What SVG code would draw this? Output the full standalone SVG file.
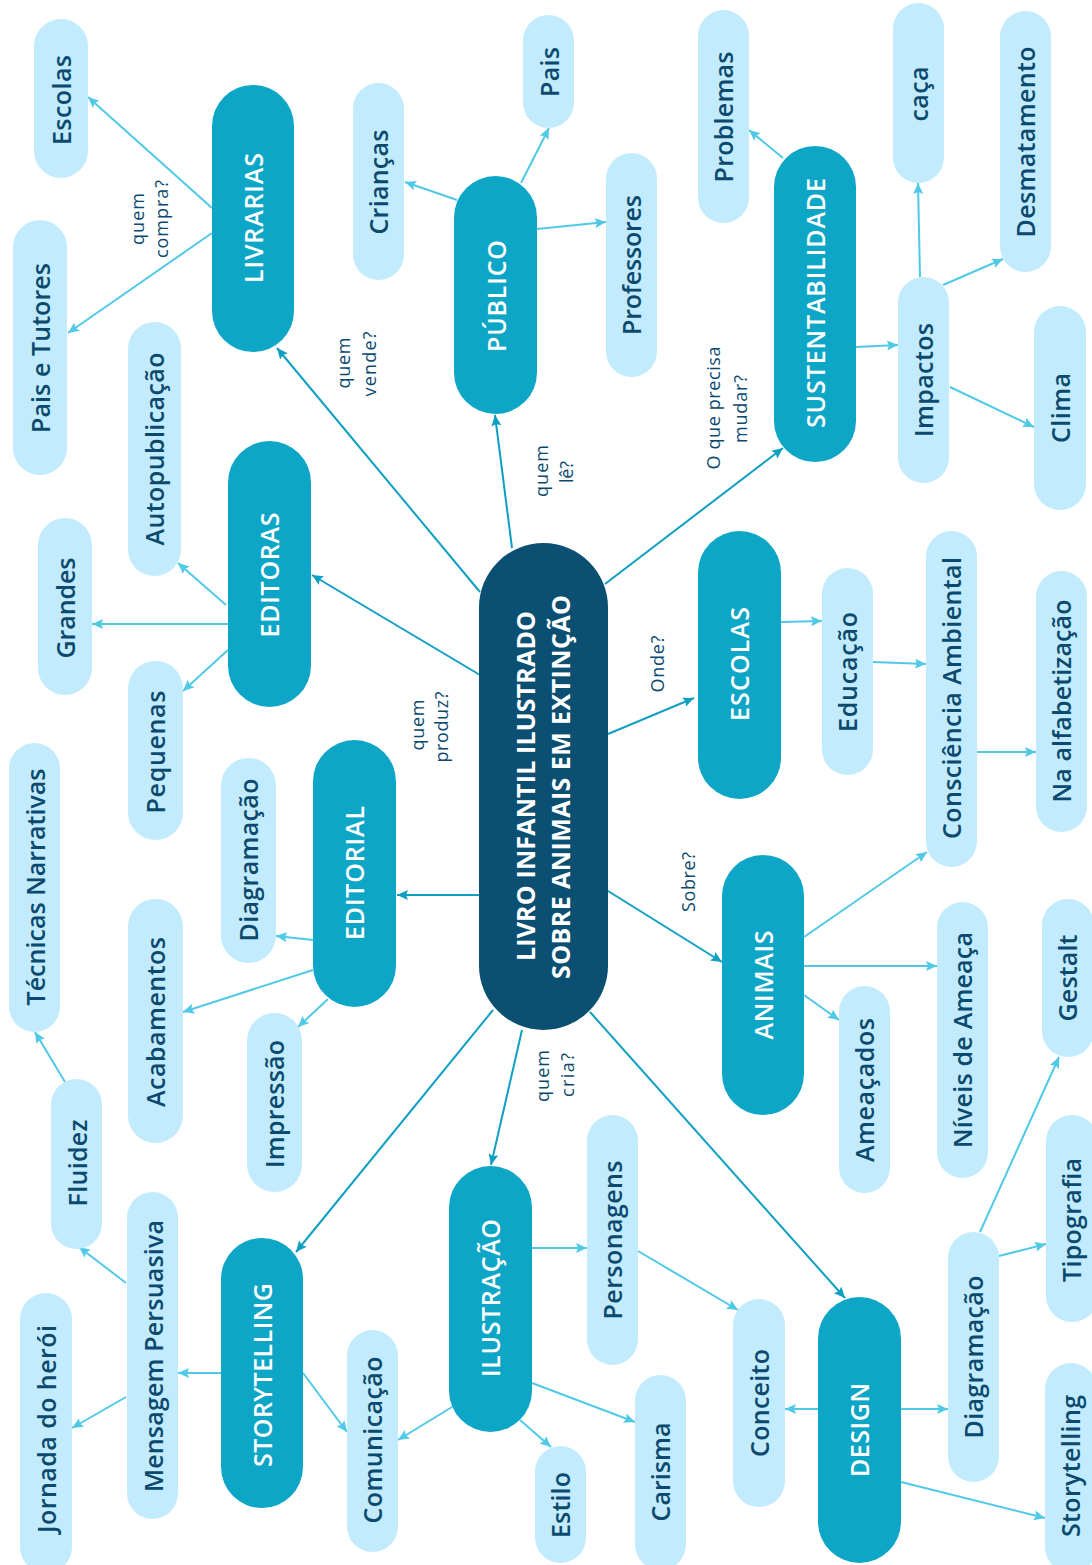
<svg xmlns="http://www.w3.org/2000/svg" width="1092" height="1565" viewBox="0 0 1092 1565">
<defs>
<style>
.c{fill:#0b4f72}
.p1{fill:#0ea6c7}
.p2{fill:#c2ecfd}
text{font-family:"Open Sans","Liberation Sans",sans-serif;text-anchor:middle;dominant-baseline:central}
.t0{fill:#ffffff;font-size:25px;font-weight:700}
.t1{fill:#ffffff;font-size:25px;font-weight:600}
.t2{fill:#0b4a6e;font-size:25px;font-weight:600}
.lab{fill:#0b4a6e;font-size:18px;font-weight:500}
.e0{stroke:#0e9fc2;stroke-width:2;fill:none;marker-end:url(#a0)}
.e1{stroke:#50c9e7;stroke-width:2;fill:none;marker-end:url(#a1)}
</style>
<marker id="a0" markerUnits="userSpaceOnUse" markerWidth="12" markerHeight="10" refX="11" refY="5" orient="auto"><path d="M0,0 L11,5 L0,10 L2,5 z" fill="#0e9fc2"/></marker>
<marker id="a1" markerUnits="userSpaceOnUse" markerWidth="12" markerHeight="10" refX="11" refY="5" orient="auto"><path d="M0,0 L11,5 L0,10 L2,5 z" fill="#50c9e7"/></marker>
</defs>
<rect width="1092" height="1565" fill="#ffffff"/>
<g id="connectors">
<line class="e0" x1="480" y1="592" x2="277" y2="348"/>
<line class="e0" x1="512" y1="548" x2="495" y2="415"/>
<line class="e0" x1="605" y1="584" x2="783" y2="448"/>
<line class="e0" x1="480" y1="675" x2="312" y2="575"/>
<line class="e0" x1="608" y1="734" x2="694" y2="698"/>
<line class="e0" x1="480" y1="895" x2="397" y2="895"/>
<line class="e0" x1="608" y1="891" x2="722" y2="962"/>
<line class="e0" x1="493" y1="1010" x2="296" y2="1252"/>
<line class="e0" x1="522" y1="1030" x2="491" y2="1165"/>
<line class="e0" x1="590" y1="1012" x2="845" y2="1298"/>
<line class="e1" x1="212" y1="208" x2="88" y2="97"/>
<line class="e1" x1="212" y1="233" x2="68" y2="333"/>
<line class="e1" x1="457" y1="200" x2="405" y2="182"/>
<line class="e1" x1="521" y1="183" x2="549" y2="128"/>
<line class="e1" x1="537" y1="229" x2="606" y2="222"/>
<line class="e1" x1="783" y1="158" x2="749" y2="130"/>
<line class="e1" x1="856" y1="347" x2="898" y2="345"/>
<line class="e1" x1="920" y1="277" x2="918" y2="183"/>
<line class="e1" x1="943" y1="285" x2="1003" y2="259"/>
<line class="e1" x1="950" y1="387" x2="1034" y2="427"/>
<line class="e1" x1="226" y1="605" x2="178" y2="563"/>
<line class="e1" x1="228" y1="624" x2="92" y2="624"/>
<line class="e1" x1="228" y1="650" x2="183" y2="691"/>
<line class="e1" x1="313" y1="940" x2="276" y2="936"/>
<line class="e1" x1="313" y1="970" x2="183" y2="1012"/>
<line class="e1" x1="328" y1="999" x2="298" y2="1027"/>
<line class="e1" x1="65" y1="1082" x2="35" y2="1032"/>
<line class="e1" x1="126" y1="1283" x2="79" y2="1247"/>
<line class="e1" x1="221" y1="1373" x2="178" y2="1373"/>
<line class="e1" x1="126" y1="1397" x2="72" y2="1428"/>
<line class="e1" x1="303" y1="1373" x2="347" y2="1432"/>
<line class="e1" x1="452" y1="1407" x2="398" y2="1440"/>
<line class="e1" x1="532" y1="1248" x2="587" y2="1248"/>
<line class="e1" x1="638" y1="1251" x2="738" y2="1310"/>
<line class="e1" x1="532" y1="1383" x2="635" y2="1422"/>
<line class="e1" x1="520" y1="1420" x2="551" y2="1447"/>
<line class="e1" x1="818" y1="1409" x2="785" y2="1409"/>
<line class="e1" x1="901" y1="1409" x2="948" y2="1409"/>
<line class="e1" x1="901" y1="1482" x2="1045" y2="1518"/>
<line class="e1" x1="999" y1="1256" x2="1046" y2="1244"/>
<line class="e1" x1="980" y1="1232" x2="1059" y2="1057"/>
<line class="e1" x1="781" y1="622" x2="822" y2="621"/>
<line class="e1" x1="873" y1="662" x2="926" y2="664"/>
<line class="e1" x1="977" y1="752" x2="1036" y2="752"/>
<line class="e1" x1="804" y1="937" x2="927" y2="852"/>
<line class="e1" x1="804" y1="966" x2="937" y2="966"/>
<line class="e1" x1="804" y1="995" x2="839" y2="1020"/>
</g>
<g id="labels">
<text class="lab" transform="translate(137,219) rotate(-90)" textLength="52">quem</text>
<text class="lab" transform="translate(161,219) rotate(-90)" textLength="78">compra?</text>
<text class="lab" transform="translate(343,363) rotate(-90)" textLength="51">quem</text>
<text class="lab" transform="translate(369,364) rotate(-90)" textLength="65">vende?</text>
<text class="lab" transform="translate(541,471) rotate(-90)" textLength="52">quem</text>
<text class="lab" transform="translate(566,472) rotate(-90)" textLength="22">lê?</text>
<text class="lab" transform="translate(713,408) rotate(-90)" textLength="123">O que precisa</text>
<text class="lab" transform="translate(740,409) rotate(-90)" textLength="68">mudar?</text>
<text class="lab" transform="translate(417,725) rotate(-90)" textLength="51">quem</text>
<text class="lab" transform="translate(441,727) rotate(-90)" textLength="71">produz?</text>
<text class="lab" transform="translate(657,664) rotate(-90)" textLength="57">Onde?</text>
<text class="lab" transform="translate(688,882) rotate(-90)" textLength="60">Sobre?</text>
<text class="lab" transform="translate(542,1076) rotate(-90)" textLength="52">quem</text>
<text class="lab" transform="translate(567,1075) rotate(-90)" textLength="44">cria?</text>
</g>
<g id="central"><rect class="c" x="479" y="543" width="129" height="487" rx="64.5"/>
<text class="t0" transform="translate(524.5,786) rotate(-90)" textLength="350">LIVRO INFANTIL ILUSTRADO</text>
<text class="t0" transform="translate(560,787) rotate(-90)" textLength="384">SOBRE ANIMAIS EM EXTINÇÃO</text></g>
<g id="livrarias"><rect class="p1" x="212" y="85" width="82" height="267" rx="41"/><text class="t1" transform="translate(253,218) rotate(-90)" textLength="130">LIVRARIAS</text></g>
<g id="publico"><rect class="p1" x="454" y="176" width="83" height="238" rx="41.5"/><text class="t1" transform="translate(496,296) rotate(-90)" textLength="112">PÚBLICO</text></g>
<g id="sustentabilidade"><rect class="p1" x="774" y="146" width="82" height="316" rx="41"/><text class="t1" transform="translate(815,303) rotate(-90)" textLength="250">SUSTENTABILIDADE</text></g>
<g id="editoras"><rect class="p1" x="228" y="441" width="83" height="266" rx="41.5"/><text class="t1" transform="translate(269,575) rotate(-90)" textLength="125">EDITORAS</text></g>
<g id="escolas-main"><rect class="p1" x="698" y="531" width="83" height="268" rx="41.5"/><text class="t1" transform="translate(739,664) rotate(-90)" textLength="114">ESCOLAS</text></g>
<g id="editorial"><rect class="p1" x="313" y="740" width="83" height="267" rx="41.5"/><text class="t1" transform="translate(354,873) rotate(-90)" textLength="134">EDITORIAL</text></g>
<g id="animais"><rect class="p1" x="722" y="855" width="82" height="260" rx="41"/><text class="t1" transform="translate(763,985) rotate(-90)" textLength="109">ANIMAIS</text></g>
<g id="storytelling-main"><rect class="p1" x="221" y="1238" width="82" height="270" rx="41"/><text class="t1" transform="translate(262,1375) rotate(-90)" textLength="184">STORYTELLING</text></g>
<g id="ilustracao"><rect class="p1" x="449" y="1166" width="83" height="266" rx="41.5"/><text class="t1" transform="translate(490,1298) rotate(-90)" textLength="158">ILUSTRAÇÃO</text></g>
<g id="design"><rect class="p1" x="818" y="1297" width="83" height="266" rx="41.5"/><text class="t1" transform="translate(859,1430) rotate(-90)" textLength="94">DESIGN</text></g>
<g id="escolas"><rect class="p2" x="34" y="19" width="54" height="159" rx="27"/><text class="t2" transform="translate(61,100) rotate(-90)" textLength="90">Escolas</text></g>
<g id="pais-tutores"><rect class="p2" x="13" y="220" width="54" height="255" rx="27"/><text class="t2" transform="translate(40,348) rotate(-90)" textLength="170">Pais e Tutores</text></g>
<g id="criancas"><rect class="p2" x="353" y="83" width="51" height="197" rx="25.5"/><text class="t2" transform="translate(378,182) rotate(-90)" textLength="105">Crianças</text></g>
<g id="pais"><rect class="p2" x="523" y="15" width="51" height="113" rx="25.5"/><text class="t2" transform="translate(549,72) rotate(-90)" textLength="50">Pais</text></g>
<g id="professores"><rect class="p2" x="606" y="153" width="51" height="224" rx="25.5"/><text class="t2" transform="translate(631,265) rotate(-90)" textLength="140">Professores</text></g>
<g id="problemas"><rect class="p2" x="698" y="10" width="51" height="213" rx="25.5"/><text class="t2" transform="translate(723,117) rotate(-90)" textLength="131">Problemas</text></g>
<g id="caca"><rect class="p2" x="893" y="3" width="51" height="180" rx="25.5"/><text class="t2" transform="translate(918,94) rotate(-90)" textLength="55">caça</text></g>
<g id="desmatamento"><rect class="p2" x="1000" y="11" width="51" height="261" rx="25.5"/><text class="t2" transform="translate(1025,142) rotate(-90)" textLength="191">Desmatamento</text></g>
<g id="impactos"><rect class="p2" x="898" y="277" width="51" height="206" rx="25.5"/><text class="t2" transform="translate(923,380) rotate(-90)" textLength="114">Impactos</text></g>
<g id="clima"><rect class="p2" x="1034" y="306" width="52" height="204" rx="26"/><text class="t2" transform="translate(1060,408) rotate(-90)" textLength="70">Clima</text></g>
<g id="autopublicacao"><rect class="p2" x="128" y="322" width="53" height="254" rx="26.5"/><text class="t2" transform="translate(154,449) rotate(-90)" textLength="193">Autopublicação</text></g>
<g id="grandes"><rect class="p2" x="38" y="518" width="54" height="177" rx="27"/><text class="t2" transform="translate(65,608) rotate(-90)" textLength="101">Grandes</text></g>
<g id="pequenas"><rect class="p2" x="128" y="661" width="55" height="179" rx="27.5"/><text class="t2" transform="translate(155,752) rotate(-90)" textLength="123">Pequenas</text></g>
<g id="tecnicas"><rect class="p2" x="9" y="743" width="51" height="289" rx="25.5"/><text class="t2" transform="translate(35,887) rotate(-90)" textLength="237">Técnicas Narrativas</text></g>
<g id="diagramacao-ed"><rect class="p2" x="221" y="758" width="55" height="205" rx="27.5"/><text class="t2" transform="translate(248,860) rotate(-90)" textLength="163">Diagramação</text></g>
<g id="acabamentos"><rect class="p2" x="128" y="899" width="55" height="244" rx="27.5"/><text class="t2" transform="translate(155,1022) rotate(-90)" textLength="170">Acabamentos</text></g>
<g id="impressao"><rect class="p2" x="247" y="1013" width="55" height="179" rx="27.5"/><text class="t2" transform="translate(274,1104) rotate(-90)" textLength="128">Impressão</text></g>
<g id="fluidez"><rect class="p2" x="51" y="1079" width="51" height="170" rx="25.5"/><text class="t2" transform="translate(77,1163) rotate(-90)" textLength="87">Fluidez</text></g>
<g id="mensagem"><rect class="p2" x="127" y="1192" width="51" height="327" rx="25.5"/><text class="t2" transform="translate(153,1356) rotate(-90)" textLength="272">Mensagem Persuasiva</text></g>
<g id="jornada"><rect class="p2" x="20" y="1293" width="52" height="280" rx="26"/><text class="t2" transform="translate(46,1429) rotate(-90)" textLength="208">Jornada do herói</text></g>
<g id="comunicacao"><rect class="p2" x="347" y="1330" width="51" height="222" rx="25.5"/><text class="t2" transform="translate(372,1440) rotate(-90)" textLength="167">Comunicação</text></g>
<g id="personagens"><rect class="p2" x="587" y="1115" width="51" height="250" rx="25.5"/><text class="t2" transform="translate(612,1240) rotate(-90)" textLength="159">Personagens</text></g>
<g id="estilo"><rect class="p2" x="535" y="1446" width="51" height="117" rx="25.5"/><text class="t2" transform="translate(560,1505) rotate(-90)" textLength="66">Estilo</text></g>
<g id="carisma"><rect class="p2" x="635" y="1375" width="51" height="195" rx="25.5"/><text class="t2" transform="translate(660,1472) rotate(-90)" textLength="99">Carisma</text></g>
<g id="conceito"><rect class="p2" x="733" y="1299" width="52" height="208" rx="26"/><text class="t2" transform="translate(759,1403) rotate(-90)" textLength="108">Conceito</text></g>
<g id="diagramacao-dsg"><rect class="p2" x="948" y="1232" width="51" height="250" rx="25.5"/><text class="t2" transform="translate(973,1357) rotate(-90)" textLength="163">Diagramação</text></g>
<g id="tipografia"><rect class="p2" x="1046" y="1115" width="52" height="207" rx="26"/><text class="t2" transform="translate(1071,1220) rotate(-90)" textLength="124">Tipografia</text></g>
<g id="storytelling"><rect class="p2" x="1045" y="1363" width="52" height="210" rx="26"/><text class="t2" transform="translate(1070,1466) rotate(-90)" textLength="142">Storytelling</text></g>
<g id="gestalt"><rect class="p2" x="1042" y="899" width="52" height="158" rx="26"/><text class="t2" transform="translate(1067,978) rotate(-90)" textLength="87">Gestalt</text></g>
<g id="niveis"><rect class="p2" x="937" y="902" width="51" height="276" rx="25.5"/><text class="t2" transform="translate(962,1040) rotate(-90)" textLength="216">Níveis de Ameaça</text></g>
<g id="ameacados"><rect class="p2" x="839" y="986" width="51" height="207" rx="25.5"/><text class="t2" transform="translate(864,1090) rotate(-90)" textLength="144">Ameaçados</text></g>
<g id="consciencia"><rect class="p2" x="926" y="531" width="51" height="336" rx="25.5"/><text class="t2" transform="translate(951,698) rotate(-90)" textLength="282">Consciência Ambiental</text></g>
<g id="alfabetizacao"><rect class="p2" x="1036" y="571" width="51" height="261" rx="25.5"/><text class="t2" transform="translate(1061,701) rotate(-90)" textLength="203">Na alfabetização</text></g>
<g id="educacao"><rect class="p2" x="822" y="568" width="51" height="207" rx="25.5"/><text class="t2" transform="translate(847,672) rotate(-90)" textLength="120">Educação</text></g>
</svg>
